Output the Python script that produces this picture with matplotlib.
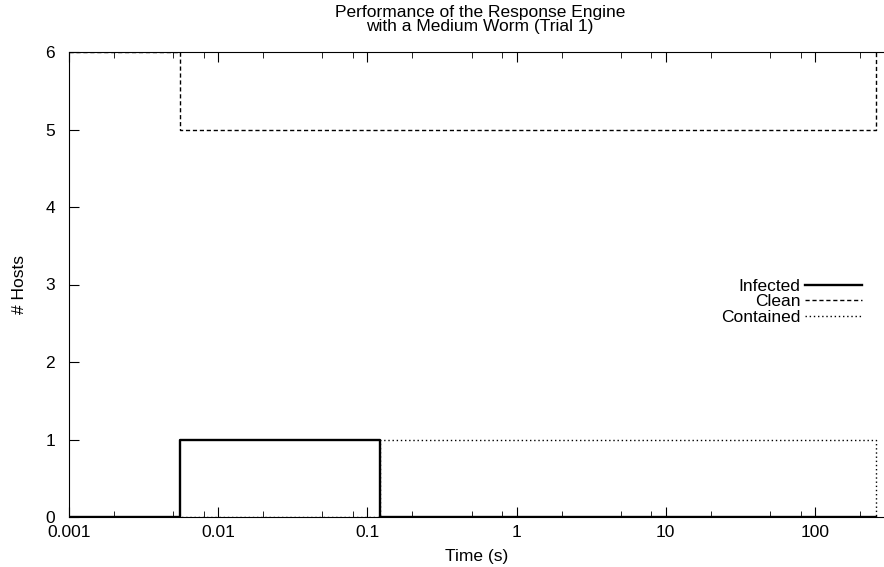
import matplotlib
matplotlib.use('Agg')
import matplotlib.pyplot as plt
from matplotlib.ticker import LogLocator, NullFormatter

plt.rcParams['font.family'] = ['Liberation Sans', 'DejaVu Sans']

# event times (s) and number of hosts in each state after that time
tiempos = [0.001, 0.00554, 0.121, 258]
infected = [0, 1, 0, 0]
clean = [6, 5, 5, 6]
contained = [0, 0, 1, 0]

fs = 12.5
fig = plt.figure(figsize=(8.84, 5.67), dpi=100)
ax = fig.add_axes([69/884, 50/567, 815/884, 465/567])

ax.step(tiempos, infected, where='post', color='black', lw=1.7, label='Infected')
ax.step(tiempos, clean, where='post', color='black', lw=1.0, ls=(0, (3, 2)), label='Clean')
ax.step(tiempos, contained, where='post', color='black', lw=1.0, ls=(0, (1, 2)), label='Contained')

ax.set_xscale('log')
ax.set_xlim(0.001, 290)
ax.set_ylim(0, 6)
ax.set_xticks([0.001, 0.01, 0.1, 1, 10, 100])
ax.set_xticklabels(['0.001', '0.01', '0.1', '1', '10', '100'])
ax.xaxis.set_minor_locator(LogLocator(base=10, subs=(2, 5, 8)))
ax.xaxis.set_minor_formatter(NullFormatter())
ax.set_yticks(range(7))
ax.tick_params(which='both', direction='in', top=True, right=False, labelsize=fs)
ax.tick_params(which='major', length=7, width=0.8)
ax.tick_params(which='minor', length=4, width=0.6)
ax.tick_params(axis='y', pad=10)
ax.tick_params(axis='x', pad=6)
ax.spines['right'].set_visible(False)

ax.set_xlabel('Time (s)', fontsize=fs)
ax.set_ylabel('# Hosts', fontsize=fs)
ax.yaxis.set_label_coords(-0.052, 0.5)
ax.xaxis.set_label_coords(0.5, -0.069)
fig.text(480/884, 1 - 12/567, 'Performance of the Response Engine',
         ha='center', va='center', fontsize=fs)
fig.text(480/884, 1 - 27/567, 'with a Medium Worm (Trial 1)',
         ha='center', va='center', fontsize=fs)

ax.legend(loc='center right', bbox_to_anchor=(0.973, 0.463), frameon=False,
          markerfirst=False, fontsize=fs, handlelength=3.3, labelspacing=0.02,
          handletextpad=0.25, borderpad=0, borderaxespad=0)

plt.savefig('out.png', dpi=100)
